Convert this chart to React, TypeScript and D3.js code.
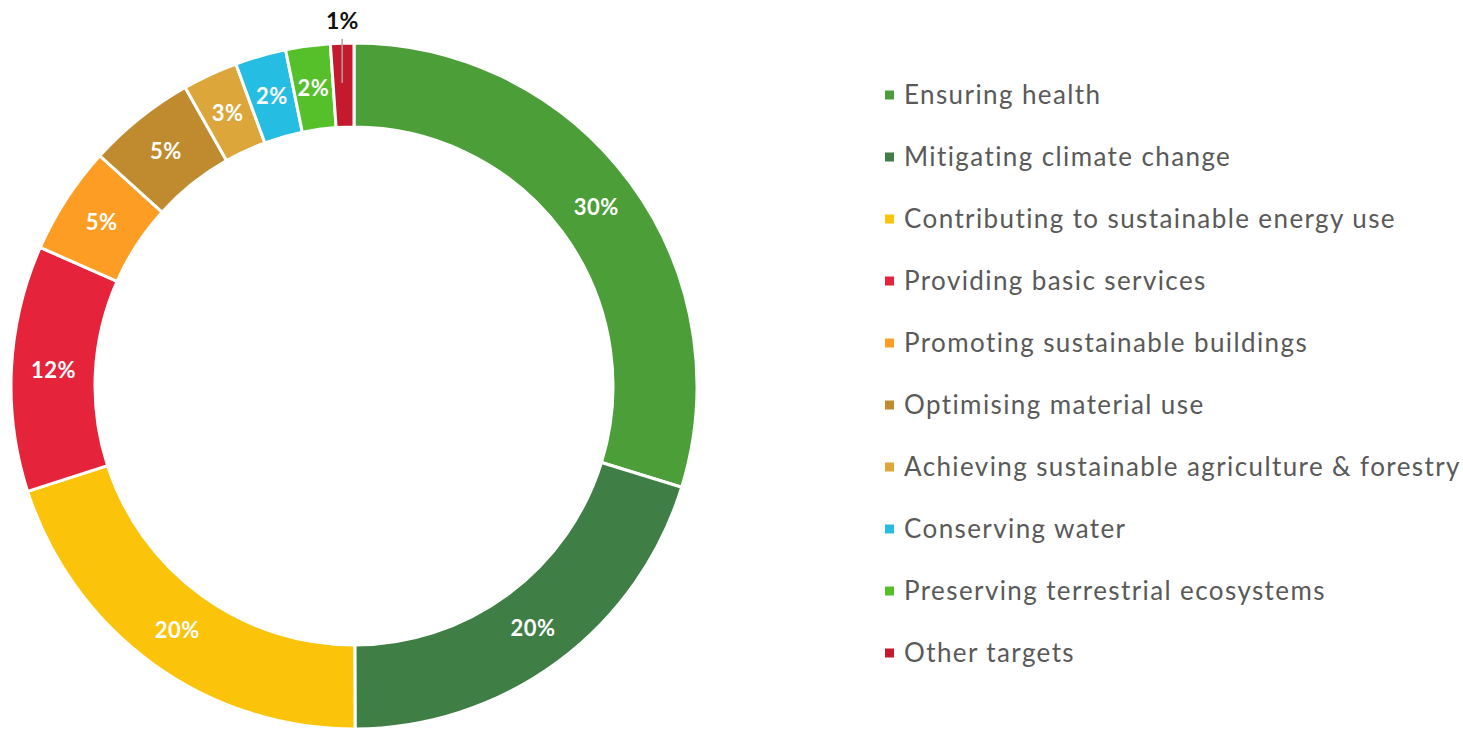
import React from "react";
import * as d3 from "d3";

const categories = [
  "Ensuring health",
  "Mitigating climate change",
  "Contributing to sustainable energy use",
  "Providing basic services",
  "Promoting sustainable buildings",
  "Optimising material use",
  "Achieving sustainable agriculture & forestry",
  "Conserving water",
  "Preserving terrestrial ecosystems",
  "Other targets",
];
// estimated shares (%)
const values = [29.8, 20.2, 20.1, 11.6, 5.1, 5.1, 2.6, 2.4, 2.1, 1.1];
const labels = ["30%", "20%", "20%", "12%", "5%", "5%", "3%", "2%", "2%", "1%"];
const colors = [
  "#4C9F38",
  "#3F7E44",
  "#FCC30B",
  "#E5243B",
  "#FD9D24",
  "#BF8B2E",
  "#DDA63A",
  "#26BDE2",
  "#56C02B",
  "#C5192D",
];

const W = 1463;
const H = 729;
const cx = 354;
const cy = 386;
const outerR = 343;
const innerR = 259;

export default function App() {
  const pie = d3.pie<number>().sort(null).value((d) => d)(values);
  const arc = d3.arc<d3.PieArcDatum<number>>().innerRadius(innerR).outerRadius(outerR);
  const font = "Lato, 'Noto Sans', sans-serif";
  return (
    <svg
      width={W}
      height={H}
      style={{ position: "absolute", left: 0, top: 0 }}
      fontFamily={font}
    >
      <g transform={`translate(${cx},${cy})`}>
        {pie.map((p, i) => (
          <path key={i} d={arc(p) || ""} fill={colors[i]} stroke="#fff" strokeWidth={3} />
        ))}
        {pie.map((p, i) => {
          const [x, y] = arc.centroid(p);
          if (i === values.length - 1) {
            const a = (p.startAngle + p.endAngle) / 2;
            const lx = Math.sin(a) * outerR;
            return (
              <g key={"l" + i}>
                <line
                  x1={lx}
                  y1={-(outerR - 40)}
                  x2={lx}
                  y2={-(outerR + 4)}
                  stroke="#A6A6A6"
                  strokeWidth={1.5}
                />
                <text
                  x={lx}
                  y={-(outerR + 14)}
                  textAnchor="middle"
                  fontSize={23}
                  fontWeight="bold"
                  fill="#111"
                >
                  {labels[i]}
                </text>
              </g>
            );
          }
          return (
            <text
              key={"l" + i}
              x={x}
              y={y}
              dy="0.36em"
              textAnchor="middle"
              fontSize={22}
              fontWeight="bold"
              fill="#fff"
              letterSpacing={0.5}
            >
              {labels[i]}
            </text>
          );
        })}
      </g>
      <g>
        {categories.map((c, i) => {
          const y = 95 + i * 62;
          return (
            <g key={c}>
              <rect x={885} y={y - 4.5} width={9} height={9} fill={colors[i]} />
              <text
                x={904}
                y={y}
                dy="0.36em"
                fontSize={26}
                fill="#595959"
                letterSpacing={1.4}
              >
                {c}
              </text>
            </g>
          );
        })}
      </g>
    </svg>
  );
}
